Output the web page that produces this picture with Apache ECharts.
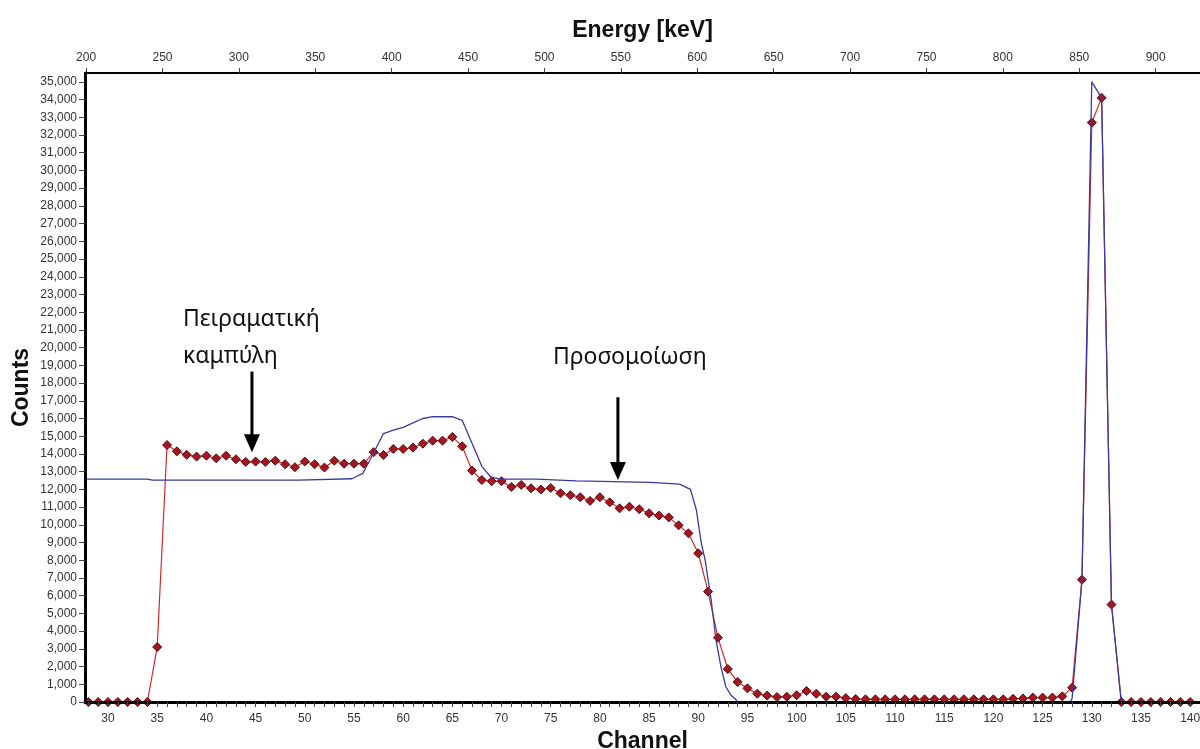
<!DOCTYPE html>
<html>
<head>
<meta charset="utf-8">
<script src="https://cdn.jsdelivr.net/npm/echarts@6/dist/echarts.min.js"></script>
<style>
  html, body { margin: 0; padding: 0; background: #ffffff; }
  #chart { width: 1200px; height: 749px; }
</style>
</head>
<body>
<div id="chart"></div>
<script>
// Measured spectrum: counts per channel (channels 28 … 140)
const channels = [
  28, 29, 30, 31, 32, 33, 34, 35, 36, 37, 38, 39, 40, 41, 42, 43, 44, 45, 46, 47,
  48, 49, 50, 51, 52, 53, 54, 55, 56, 57, 58, 59, 60, 61, 62, 63, 64, 65, 66, 67,
  68, 69, 70, 71, 72, 73, 74, 75, 76, 77, 78, 79, 80, 81, 82, 83, 84, 85, 86, 87,
  88, 89, 90, 91, 92, 93, 94, 95, 96, 97, 98, 99, 100, 101, 102, 103, 104, 105, 106, 107,
  108, 109, 110, 111, 112, 113, 114, 115, 116, 117, 118, 119, 120, 121, 122, 123, 124, 125, 126, 127,
  128, 129, 130, 131, 132, 133, 134, 135, 136, 137, 138, 139, 140
];
const measuredCounts = [
  0, 0, 0, 0, 0, 0, 0, 3100, 14500, 14150, 13950, 13850, 13900, 13750, 13900, 13700, 13550, 13570, 13550, 13620,
  13420, 13250, 13570, 13420, 13230, 13620, 13450, 13450, 13450, 14100, 13940, 14280, 14280, 14360, 14580, 14750, 14750, 14960, 14430, 13060,
  12530, 12460, 12460, 12140, 12250, 12060, 11990, 12080, 11780, 11670, 11560, 11350, 11560, 11270, 10930, 11020, 10880, 10650, 10520, 10420,
  9970, 9520, 8390, 6230, 3630, 1860, 1130, 770, 470, 360, 280, 300, 380, 620, 470, 300, 300, 220, 170, 150,
  150, 150, 150, 150, 150, 150, 150, 150, 150, 150, 150, 150, 150, 150, 180, 200, 250, 250, 250, 320,
  810, 6900, 32700, 34100, 5500, 0, 0, 0, 0, 0, 0, 0, 0
];

// Simulated spectrum (continuous curve), sampled at these channel positions
const simChannels = [
  27, 34, 34.5, 49.4, 49.6, 54.8, 55.9, 57, 58, 59, 60, 61, 62, 63, 65, 66, 67, 68, 68.9, 69.8,
  73.5, 77.6, 85.1, 88.1, 89.2, 89.8, 90.3, 90.7, 91.3, 91.8, 92.3, 92.8, 93.3, 93.8, 94, 127.8, 128,
  129, 130, 131, 132, 133, 141
];
const simCounts = [
  12580, 12580, 12520, 12520, 12580, 12600, 12900, 14050, 15150, 15350, 15500, 15750, 16000, 16100, 16100, 15900, 14600, 13300, 12700, 12580,
  12580, 12480, 12400, 12300, 12000, 10850, 9000, 8000, 5800, 3500, 2000, 860, 400, 150, 0, 0, 200,
  6900, 35000, 34100, 5500, 0, 0
];

// Axis tick labels
const channelLabels = [30, 35, 40, 45, 50, 55, 60, 65, 70, 75, 80, 85, 90, 95, 100, 105, 110, 115, 120, 125, 130, 135, 140];
const energyLabels = [200, 250, 300, 350, 400, 450, 500, 550, 600, 650, 700, 750, 800, 850, 900];
const countLabels = [
  0, 1000, 2000, 3000, 4000, 5000, 6000, 7000, 8000, 9000, 10000, 11000, 12000, 13000, 14000, 15000, 16000, 17000,
  18000, 19000, 20000, 21000, 22000, 23000, 24000, 25000, 26000, 27000, 28000, 29000, 30000, 31000, 32000, 33000, 34000, 35000
];

// Minor ticks on the channel axis: one per channel
const channelTicks = [];
for (let c = 28; c <= 141; c++) channelTicks.push(c);

const measuredData = channels.map((c, i) => [c, measuredCounts[i]]);
const simData = simChannels.map((c, i) => [c, simCounts[i]]);

const axisFont = 'Liberation Sans, Arial, sans-serif';
const titleStyle = { fontFamily: axisFont, fontWeight: 'bold', fontSize: 23, color: '#111' };

const chart = echarts.init(document.getElementById('chart'), null, { renderer: 'canvas' });

chart.setOption({
  animation: false,
  backgroundColor: '#ffffff',
  grid: { left: 85, right: 0, top: 73, bottom: 47, containLabel: false, outerBoundsMode: 'none' },
  xAxis: [
    {
      type: 'value',
      position: 'bottom',
      min: 27.66,
      max: 141,
      z: 5,
      name: 'Channel',
      nameLocation: 'middle',
      nameGap: 25,
      nameTextStyle: titleStyle,
      axisLine: { show: true, onZero: false, lineStyle: { color: '#000', width: 3 } },
      axisTick: { show: true, customValues: channelTicks, length: 5, lineStyle: { color: '#444', width: 1 } },
      axisLabel: { customValues: channelLabels, fontFamily: axisFont, fontSize: 12, color: '#333', margin: 11 },
      splitLine: { show: false }
    },
    {
      type: 'value',
      position: 'top',
      min: 199.3,
      max: 929,
      name: 'Energy [keV]',
      nameLocation: 'middle',
      nameGap: 31,
      nameTextStyle: titleStyle,
      axisLine: { show: true, onZero: false, lineStyle: { color: '#000', width: 2 } },
      axisTick: { show: true, customValues: energyLabels, length: 5, lineStyle: { color: '#444', width: 1 } },
      axisLabel: { customValues: energyLabels, fontFamily: axisFont, fontSize: 12, color: '#333', margin: 9 },
      splitLine: { show: false }
    }
  ],
  yAxis: {
    type: 'value',
    min: 0,
    max: 35500,
    z: 5,
    name: 'Counts',
    nameLocation: 'middle',
    nameGap: 52,
    nameMoveOverlap: false,
    nameRotate: 90,
    nameTextStyle: titleStyle,
    axisLine: { show: true, onZero: false, lineStyle: { color: '#000', width: 3 } },
    axisTick: { show: true, customValues: countLabels, length: 6, lineStyle: { color: '#444', width: 1 } },
    axisLabel: {
      customValues: countLabels,
      fontFamily: axisFont,
      fontSize: 12,
      color: '#333',
      margin: 8,
      formatter: v => Number(v).toLocaleString('en-US')
    },
    splitLine: { show: false }
  },
  series: [
    {
      name: 'Πειραματική καμπύλη',
      type: 'line',
      xAxisIndex: 0,
      data: measuredData,
      symbol: 'diamond',
      symbolSize: 9,
      showAllSymbol: true,
      z: 2,
      itemStyle: { color: '#a3161f', borderColor: '#5a0b10', borderWidth: 1 },
      lineStyle: { color: '#d4282a', width: 1.2 }
    },
    {
      name: 'Προσομοίωση',
      type: 'line',
      xAxisIndex: 0,
      data: simData,
      symbol: 'none',
      z: 3,
      lineStyle: { color: '#3a3a9c', width: 1.3 }
    }
  ]
});

// Annotations: captions and arrows anchored in data coordinates
const px = (c, v) => chart.convertToPixel({ xAxisIndex: 0, yAxisIndex: 0 }, [c, v]);
const textFont = '23px "Noto Sans", "Open Sans", sans-serif';

function arrow(ch, fromV, toV) {
  const a = px(ch, fromV);
  const b = px(ch, toV);
  const head = 18, half = 8;
  return [
    { type: 'line', z: 10, shape: { x1: a[0], y1: a[1], x2: b[0], y2: b[1] - head + 2 },
      style: { stroke: '#000', lineWidth: 3 } },
    { type: 'polygon', z: 10,
      shape: { points: [[b[0] - half, b[1] - head], [b[0] + half, b[1] - head], [b[0], b[1]]] },
      style: { fill: '#000' } }
  ];
}

const t1 = px(37.62, 21580);
const t2 = px(37.62, 19490);
const t3 = px(75.22, 19420);

chart.setOption({
  graphic: [
    { type: 'text', z: 10, x: t1[0], y: t1[1],
      style: { text: 'Πειραματική', font: textFont, fill: '#111', align: 'left', verticalAlign: 'middle' } },
    { type: 'text', z: 10, x: t2[0], y: t2[1],
      style: { text: 'καμπύλη', font: textFont, fill: '#111', align: 'left', verticalAlign: 'middle' } },
    { type: 'text', z: 10, x: t3[0], y: t3[1],
      style: { text: 'Προσομοίωση', font: textFont, fill: '#111', align: 'left', verticalAlign: 'middle' } },
    ...arrow(44.63, 18650, 14100),
    ...arrow(81.83, 17200, 12530)
  ]
});
</script>
</body>
</html>
